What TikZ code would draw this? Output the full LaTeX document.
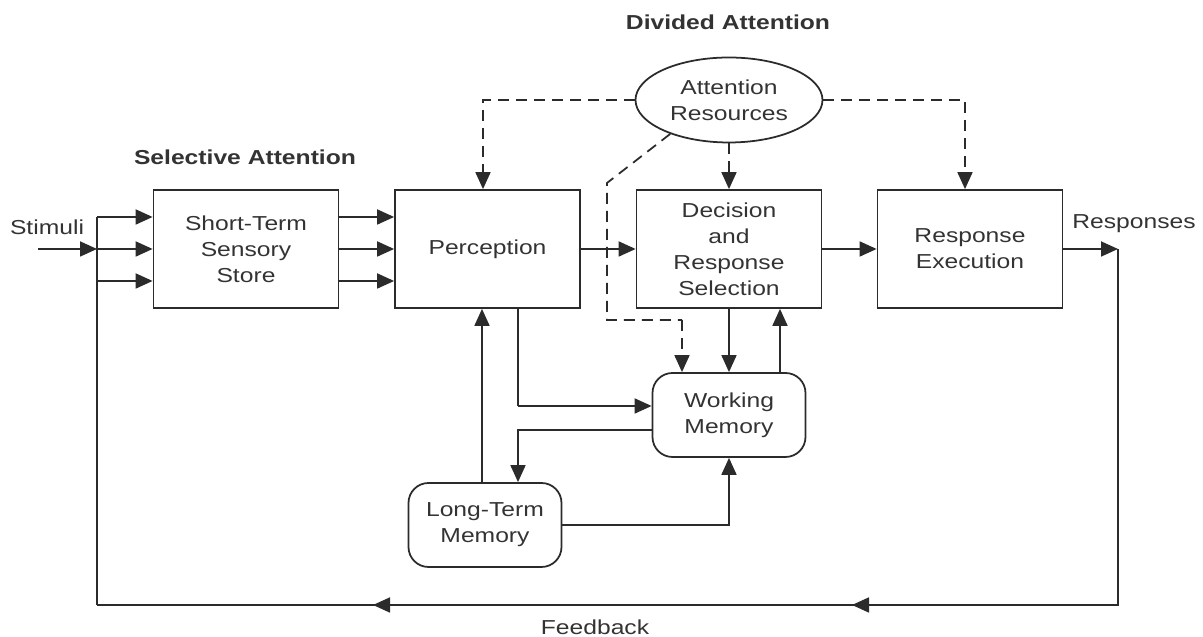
\documentclass[tikz,border=0pt]{standalone}
\usepackage{fontspec}
\setmainfont{Liberation Sans}[FakeStretch=1.22]
\usepackage{xcolor}
\usetikzlibrary{arrows.meta, positioning, calc, shapes.geometric}
\definecolor{inkline}{HTML}{2B2B2B}
\definecolor{inktext}{HTML}{333333}

\begin{document}
\begin{tikzpicture}[
    font=\fontsize{11.5}{14.8}\selectfont,
    >={Triangle[length=3.4mm,width=3.0mm]},
    stagebox/.style={
      draw=inkline, line width=1pt,
      minimum width=3.7cm, minimum height=2.36cm,
      align=center, inner sep=2pt,
      text=inktext,
    },
    memorybox/.style={
      draw=inkline, line width=1pt,
      rounded corners=0.4cm,
      minimum width=3.06cm, minimum height=1.68cm,
      align=center, inner sep=2pt,
      text=inktext,
    },
    resourcenode/.style={
      draw=inkline, line width=1pt, ellipse,
      minimum width=3.74cm, minimum height=1.7cm,
      align=center, inner sep=0pt,
      text=inktext,
    },
    flowarrow/.style={->, line width=1pt, color=inkline},
    flowline/.style={line width=1pt, color=inkline},
    attarrow/.style={->, line width=1pt, color=inkline,
                     dash pattern=on 2.2mm off 1.4mm},
    attline/.style={line width=1pt, color=inkline,
                    dash pattern=on 2.2mm off 1.4mm},
    headlabel/.style={font=\fontsize{11.5}{14}\selectfont\bfseries,
                      text=inktext, inner sep=1pt},
    sidelabel/.style={text=inktext, inner sep=1pt},
  ]
  \useasboundingbox (0,0) rectangle (24.06,12.74);

  % -----------------------------------------------------------
  % Processing stages (top row)
  % -----------------------------------------------------------
  \node[stagebox] (stss) at (4.92, 7.76)  {Short-Term\\Sensory\\Store};
  \node[stagebox] (perc) at (9.75, 7.76)  {Perception};
  \node[stagebox] (dec)  at (14.58, 7.76) {Decision\\and\\Response\\Selection};
  \node[stagebox] (resp) at (19.40, 7.76) {Response\\Execution};

  % -----------------------------------------------------------
  % Resources and memories
  % -----------------------------------------------------------
  \node[resourcenode] (att) at (14.58, 10.74) {Attention\\Resources};
  \node[memorybox]    (wm)  at (14.58, 4.44)  {Working\\Memory};
  \node[memorybox]    (ltm) at (9.70, 2.24)   {Long-Term\\Memory};

  % -----------------------------------------------------------
  % Labels
  % -----------------------------------------------------------
  \node[headlabel] (selattn) at (4.90, 9.60)   {Selective Attention};
  \node[headlabel] (divattn) at (14.56, 12.30) {Divided Attention};
  \node[sidelabel] (stimlbl) at (0.94, 8.20)   {Stimuli};
  \node[sidelabel] (resplbl) at (22.68, 8.26)  {Responses};
  \node[sidelabel] (fblbl)   at (11.90, 0.20)  {Feedback};

  % -----------------------------------------------------------
  % Input rail and feedback loop
  % -----------------------------------------------------------
  \coordinate (stimin)  at (0.76, 7.76);
  \coordinate (railtop) at (1.94, 8.40);
  \coordinate (railmid) at (1.94, 7.76);
  \coordinate (raillow) at (1.94, 7.12);
  \coordinate (fbleft)  at (1.94, 0.64);
  \coordinate (respout) at (22.36, 7.76);
  \coordinate (fbright) at (respout |- fbleft);
  \coordinate (fbtip2)  at (17.04, 0.64);
  \coordinate (fbtip1)  at (7.46, 0.64);

  \draw[flowarrow] (stimin) -- (railmid);
  \draw[flowline]  (railtop) -- (fbleft);
  \foreach \rail in {railtop, railmid, raillow}
    \draw[flowarrow] (\rail) -- (\rail -| stss.west);

  \draw[flowarrow] (resp.east) -- (respout);
  \draw[flowline]  (respout) -- (fbright) -- (fbleft);
  \draw[flowarrow] (fbright) -- (fbtip2);
  \draw[flowarrow] (fbtip2)  -- (fbtip1);

  % -----------------------------------------------------------
  % Main flow between stages
  % -----------------------------------------------------------
  \foreach \dy in {0.64, 0, -0.64}
    \draw[flowarrow] ($(stss.east)+(0,\dy)$) -- ($(perc.west)+(0,\dy)$);
  \draw[flowarrow] (perc) -- (dec);
  \draw[flowarrow] (dec)  -- (resp);

  % -----------------------------------------------------------
  % Attention resources (dashed)
  % -----------------------------------------------------------
  \coordinate (attleft)  at (9.66, 10.74);
  \coordinate (attright) at (19.30, 10.74);
  \draw[attarrow] (att.west) -| (attleft |- perc.north);
  \draw[attarrow] (att.east) -| (attright |- resp.north);
  \draw[attarrow] (att.south) -- (dec.north);

  \coordinate (attbend1) at (12.14, 9.08);
  \coordinate (attbend2) at (12.14, 6.34);
  \coordinate (attbend3) at (13.64, 6.34);
  \draw[attline]  (att.210) -- (attbend1) -- (attbend2) -- (attbend3);
  \draw[attarrow] (attbend3) -- (attbend3 |- wm.north);

  % -----------------------------------------------------------
  % Memory links
  % -----------------------------------------------------------
  \draw[flowarrow] (dec.south) -- (wm.north);
  \draw[flowarrow] (wm.north -| 15.60, 0) -- (dec.south -| 15.60, 0);

  \coordinate (percdown) at (10.36, 4.62);
  \draw[flowline]  (perc.south -| percdown) -- (percdown);
  \draw[flowarrow] (percdown) -- (percdown -| wm.west);

  \coordinate (wmout) at (wm.west |- 0, 4.14);
  \draw[flowarrow] (wmout) -| (percdown |- ltm.north);

  \draw[flowarrow] (ltm.north -| 9.64, 0) -- (perc.south -| 9.64, 0);
  \draw[flowarrow] (ltm.east) -| (wm.south);

\end{tikzpicture}
\end{document}
